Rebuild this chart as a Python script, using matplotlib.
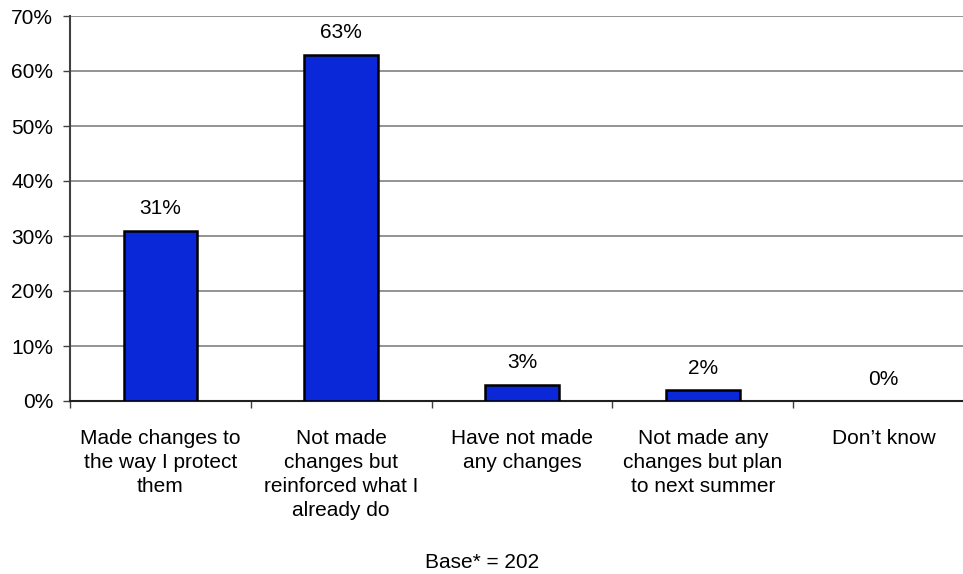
import numpy as np
import matplotlib.pyplot as plt

plt.rcParams['font.family'] = ['Liberation Sans', 'DejaVu Sans']

categories = ['Made changes to\nthe way I protect\nthem',
              'Not made\nchanges but\nreinforced what I\nalready do',
              'Have not made\nany changes',
              'Not made any\nchanges but plan\nto next summer',
              'Don\u2019t know']
values = [31, 63, 3, 2, 0]
value_labels = ['31%', '63%', '3%', '2%', '0%']

fig = plt.figure(figsize=(9.63, 5.74), dpi=100)
ax = fig.add_axes([70 / 963, 1 - 401 / 574, 904 / 963, 385 / 574])

x = np.arange(len(categories))
edge_w = [1.8 if v > 0 else 0 for v in values]
ax.bar(x, values, width=0.406, color='#0A28D8', edgecolor='black', linewidth=edge_w, zorder=3)

for xi, v, lab in zip(x, values, value_labels):
    ax.annotate(lab, (xi, v), xytext=(0, 15.5), textcoords='offset points',
                ha='center', va='center', fontsize=15, color='black')

ax.set_xlim(-0.5, len(categories) - 0.5)
ax.set_ylim(0, 70)
ax.set_yticks(np.arange(0, 71, 10))
ax.set_yticklabels([f'{t}%' for t in range(0, 71, 10)], fontsize=15)
ax.yaxis.grid(True, color='#808080', linewidth=1.2, zorder=0)

# category labels centered, ticks at boundaries
ax.set_xticks(np.arange(-0.5, len(categories) + 0.5, 1))
ax.set_xticklabels([])
ax.set_xticks(x, minor=True)
ax.set_xticklabels(categories, minor=True, fontsize=15, linespacing=1.33)
ax.tick_params(axis='x', which='minor', length=0, pad=20)
ax.tick_params(axis='x', which='major', length=5, width=1, color='#404040')
ax.tick_params(axis='y', length=5, width=1, color='#404040', pad=7)

for s in ['top', 'right']:
    ax.spines[s].set_visible(False)
ax.spines['left'].set_color('#404040')
ax.spines['left'].set_linewidth(1.5)
ax.spines['bottom'].set_color('#202020')
ax.spines['bottom'].set_linewidth(1.5)

fig.text(482 / 963, 1 - 563 / 574, 'Base* = 202', ha='center', va='center', fontsize=15)

fig.savefig('out.png', dpi=100)
